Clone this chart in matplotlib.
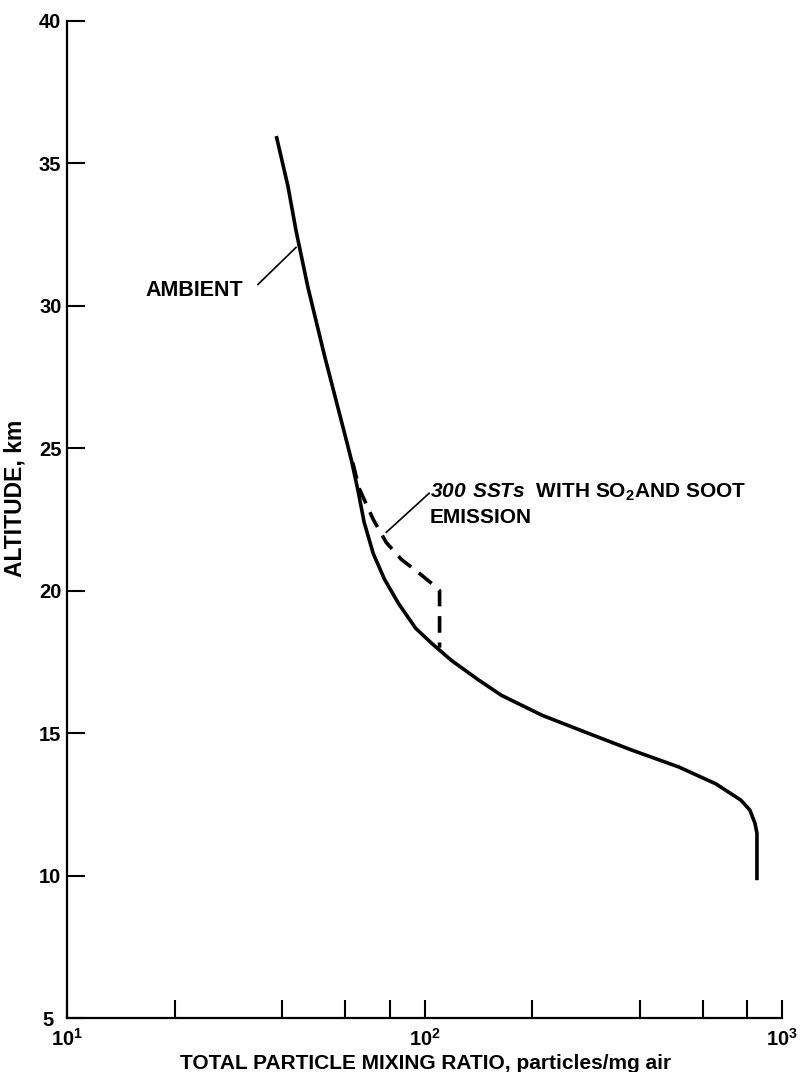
import numpy as np
import matplotlib
matplotlib.use('Agg')
import matplotlib.pyplot as plt
from matplotlib.transforms import ScaledTranslation

plt.rcParams['font.family'] = ['Liberation Sans', 'DejaVu Sans']
plt.rcParams['font.weight'] = 'bold'
plt.rcParams['mathtext.fontset'] = 'custom'
plt.rcParams['mathtext.rm'] = 'Liberation Sans:bold'
plt.rcParams['mathtext.bf'] = 'Liberation Sans:italic:bold'
plt.rcParams['lines.scale_dashes'] = False

# ambient profile (particles/mg air vs altitude km)
ambient_x = [38.6, 41.5, 43.7, 47.2, 52.4, 60.4, 62.4, 65.2, 67.8, 71.9, 77.3, 84.6, 94.5,
             104.8, 119, 141.9, 164, 213, 281, 381, 515, 653, 767, 813, 840, 851, 851]
ambient_alt = [35.9, 34.2, 32.65, 30.65, 28.3, 25.3, 24.6, 23.5, 22.4, 21.3, 20.4, 19.55, 18.68,
               18.15, 17.55, 16.86, 16.33, 15.63, 15.04, 14.40, 13.81, 13.22, 12.65, 12.30, 11.84, 11.49, 9.9]

# 300 SSTs with SO2 and soot emission
sst_x = [63.0, 65.6, 71.9, 78.1, 86.1, 95.9, 107.9, 110.2, 110.2]
sst_alt = [24.5, 23.6, 22.5, 21.7, 21.1, 20.65, 20.12, 20.0, 18.0]

xticks_major = [10, 100, 1000]
xtick_labels = [r'$10^{1}$', r'$10^{2}$', r'$10^{3}$']
xticks_minor = [20, 40, 60, 80, 200, 400, 600, 800]
yticks = [5, 10, 15, 20, 25, 30, 35, 40]

fig = plt.figure(figsize=(8.06, 10.72), dpi=100)
ax = fig.add_axes([67/806, 1-1018/1072, (782-67)/806, (1018-21)/1072])

ax.plot(ambient_x, ambient_alt, color='black', lw=2.6, solid_joinstyle='round')
ax.plot(sst_x, sst_alt, color='black', lw=2.6, linestyle=(0, (12, 7)))

ax.set_xscale('log')
ax.set_xlim(10, 1000)
ax.set_ylim(5, 40)

ax.set_xticks(xticks_major)
ax.set_xticklabels(xtick_labels)
ax.set_xticks(xticks_minor, minor=True)
ax.xaxis.set_minor_formatter(matplotlib.ticker.NullFormatter())
ax.set_yticks(yticks)

ax.tick_params(axis='x', which='both', direction='in', length=13, width=1.5, labelsize=14.5, pad=7)
ax.tick_params(axis='y', which='both', direction='in', length=13, width=1.5, labelsize=14.5, pad=4)

# the "5" sits a little left of the other y labels, clear of 10^1
lbl5 = ax.get_yticklabels()[0]
lbl5.set_transform(lbl5.get_transform() + ScaledTranslation(-8/100, 0, fig.dpi_scale_trans))

for s in ['top', 'right']:
    ax.spines[s].set_visible(False)
for s in ['left', 'bottom']:
    ax.spines[s].set_linewidth(1.6)

fig.text(15/806, 1-498/1072, 'ALTITUDE, km', rotation=90, ha='center', va='center', fontsize=16.5)
fig.text(426/806, 1-1069/1072, 'TOTAL PARTICLE MIXING RATIO, particles/mg air', ha='center', va='baseline', fontsize=15)

# labels with leaders
ax.text(16.6, 30.54, 'AMBIENT', ha='left', va='center', fontsize=15.5)
ax.plot([34.2, 43.7], [30.75, 32.05], color='black', lw=1.2)

ax.text(103.3, 23.46, r'$\mathbf{300\ SSTs}$  WITH SO$_2$AND SOOT', ha='left', va='center', fontsize=15)
ax.text(103.3, 22.58, 'EMISSION', ha='left', va='center', fontsize=15)
ax.plot([103.0, 78.2], [23.42, 22.05], color='black', lw=1.2)

fig.savefig('out.png', dpi=100)
